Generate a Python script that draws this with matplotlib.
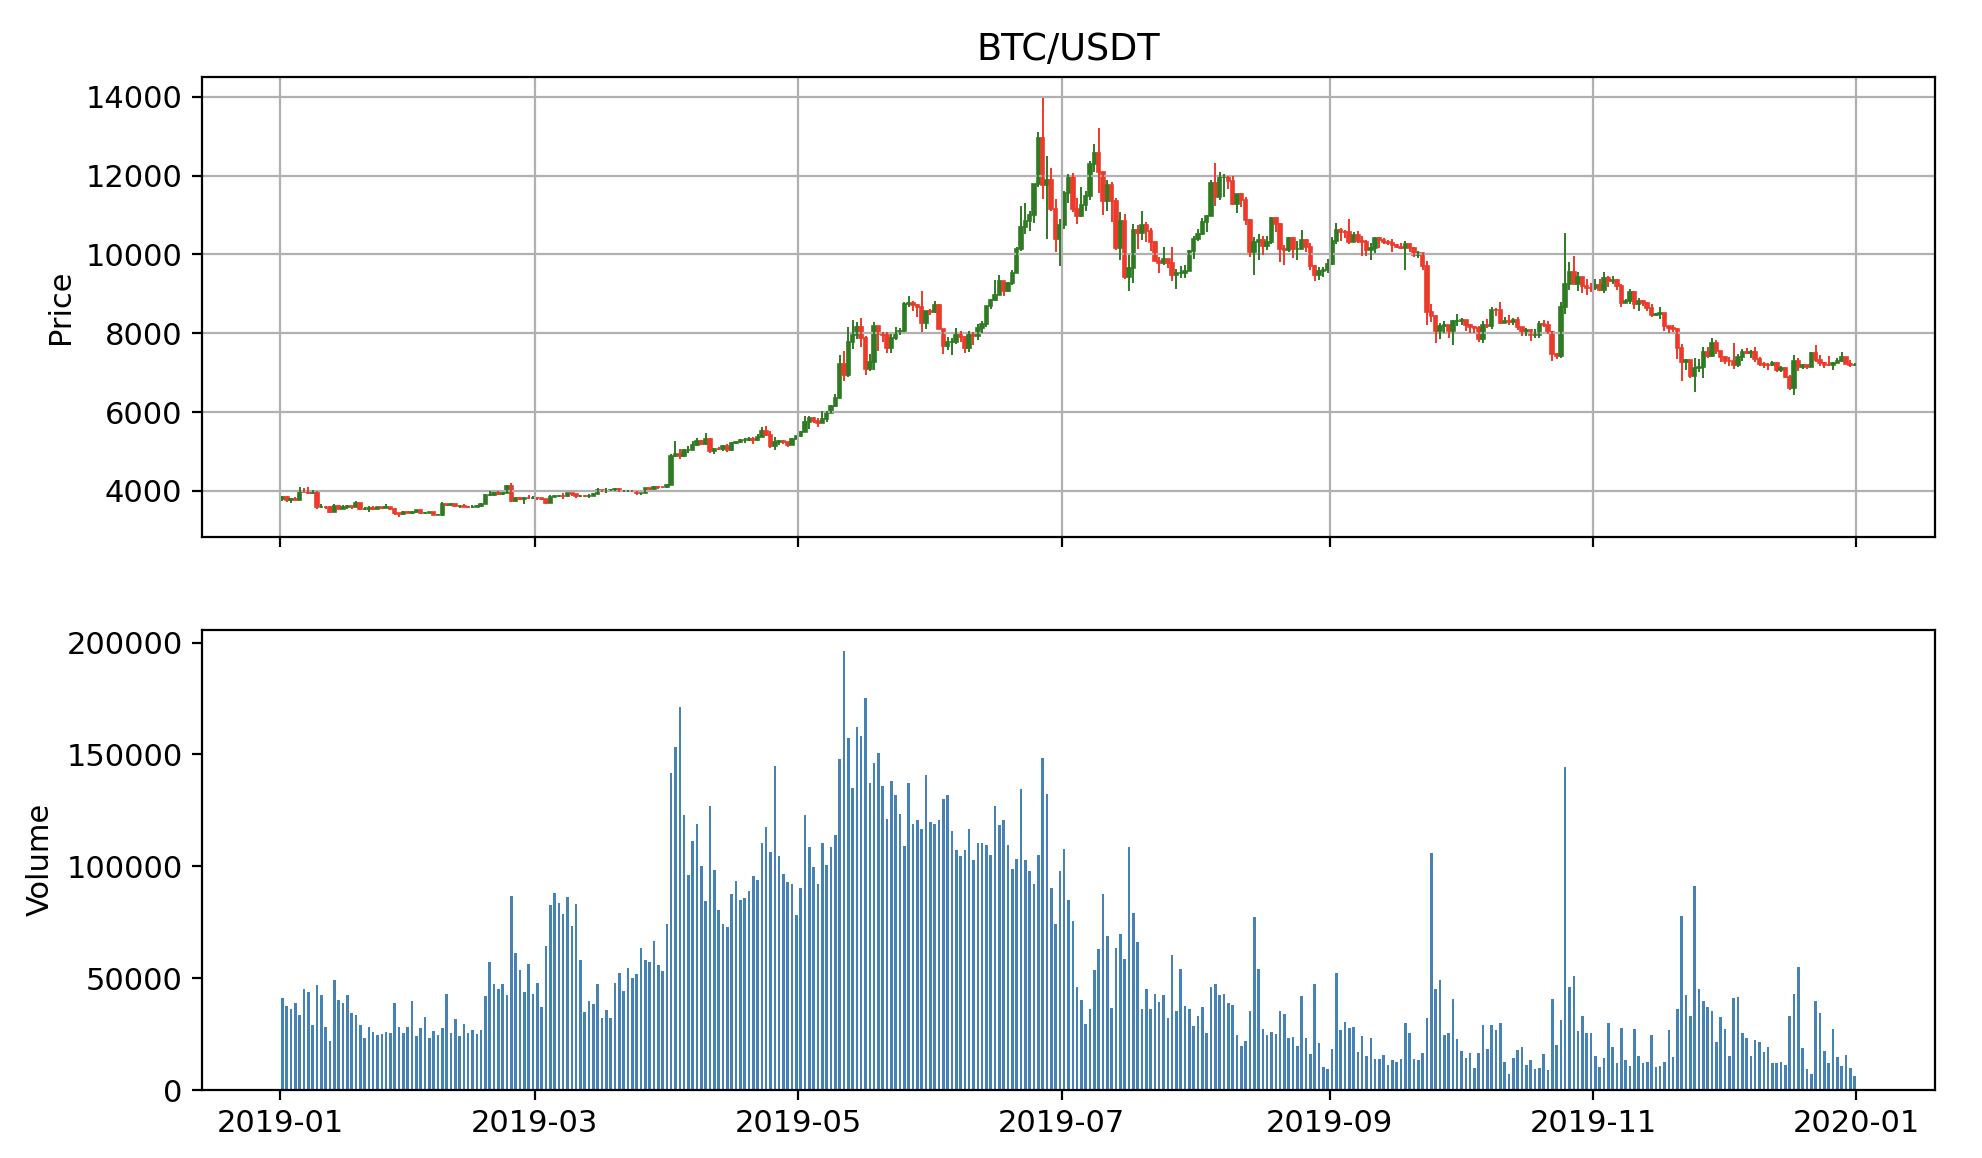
import numpy as np
import pandas as pd
import matplotlib
matplotlib.use('Agg')
import matplotlib.pyplot as plt
import matplotlib.dates as mdates
from matplotlib.ticker import MultipleLocator

plt.rcParams['font.size'] = 11

# daily candles for 2019, one list per month (open = previous close)
first_open = 3797

close_jan = [3858, 3766, 3792, 3770, 3988, 3975, 3955, 3967, 3585, 3601, 3583, 3477, 3626, 3553, 3591, 3616,
             3594, 3681, 3545, 3552, 3575, 3553, 3591, 3575, 3583, 3552, 3434, 3411, 3459, 3434, 3463]
high_jan = [3882, 3863, 3823, 3850, 4088, 4074, 4109, 4019, 3996, 3658, 3618, 3611, 3671, 3652, 3645, 3634,
            3620, 3750, 3700, 3587, 3626, 3616, 3599, 3603, 3677, 3596, 3555, 3442, 3498, 3500, 3482]
low_jan = [3750, 3730, 3703, 3760, 3757, 3964, 3929, 3930, 3540, 3566, 3530, 3441, 3467, 3531, 3545, 3530,
           3535, 3594, 3513, 3515, 3460, 3525, 3536, 3530, 3561, 3511, 3400, 3350, 3395, 3432, 3411]

close_feb = [3509, 3431, 3445, 3457, 3397, 3399, 3662, 3654, 3679, 3615, 3625, 3601, 3584, 3602, 3619, 3668,
             3898, 3907, 3960, 3922, 3957, 4120, 3741, 3820, 3806, 3818, 3813, 3823]
high_feb = [3518, 3515, 3461, 3475, 3470, 3424, 3730, 3673, 3690, 3680, 3649, 3665, 3617, 3642, 3652, 3695,
            3925, 4000, 3979, 3986, 3980, 4156, 4208, 3844, 3834, 3842, 3905, 3874]
low_feb = [3447, 3425, 3425, 3433, 3381, 3390, 3375, 3626, 3611, 3593, 3570, 3583, 3565, 3575, 3598, 3592,
           3658, 3860, 3880, 3890, 3900, 3943, 3721, 3727, 3775, 3680, 3785, 3806]

close_mar = [3819, 3792, 3705, 3857, 3861, 3873, 3864, 3943, 3916, 3870, 3881, 3865, 3873, 3918, 4032, 3986,
             3992, 4032, 4053, 3987, 4000, 4006, 3993, 3935, 3947, 4067, 4046, 4110, 4102, 4096, 4140]
high_mar = [3838, 3830, 3800, 3899, 3909, 3900, 3935, 3950, 3943, 3921, 3900, 3892, 3914, 3937, 4075, 4035,
            4066, 4049, 4068, 4081, 4015, 4014, 4015, 4000, 3957, 4085, 4078, 4125, 4125, 4110, 4165]
low_mar = [3780, 3771, 3677, 3696, 3834, 3845, 3801, 3858, 3880, 3824, 3837, 3844, 3810, 3866, 3915, 3968,
           3958, 3986, 4002, 3965, 3978, 3983, 3979, 3888, 3906, 3940, 4023, 4032, 4060, 4075, 4081]

close_apr = [4874, 4947, 4883, 5027, 5040, 5160, 5270, 5196, 5321, 5020, 5060, 5058, 5140, 5030, 5215, 5235,
             5280, 5285, 5320, 5304, 5375, 5525, 5425, 5145, 5245, 5260, 5230, 5170, 5321, 5385]
high_apr = [4925, 5274, 5060, 5065, 5150, 5260, 5330, 5280, 5460, 5340, 5100, 5120, 5175, 5190, 5245, 5275,
            5325, 5335, 5358, 5357, 5450, 5615, 5645, 5520, 5375, 5280, 5300, 5245, 5340, 5391]
low_apr = [4138, 4870, 4800, 4870, 4960, 5030, 5145, 5160, 5162, 4950, 4930, 5030, 5020, 4995, 5020, 5185,
           5225, 5220, 5255, 5203, 5275, 5365, 5385, 5100, 5050, 5175, 5190, 5105, 5154, 5310]

close_may = [5490, 5741, 5845, 5771, 5728, 5830, 5980, 6150, 6353, 7217, 6940, 7790, 7950, 8165, 7875, 7100,
             7265, 8192, 7978, 7950, 7626, 7880, 7995, 8055, 8740, 8780, 8715, 8660, 8267, 8555, 8545]
high_may = [5520, 5900, 5900, 5870, 5850, 6030, 6015, 6190, 6456, 7450, 7539, 8150, 8330, 8275, 8385, 7930,
            7480, 8275, 8192, 8044, 8030, 7975, 8165, 8140, 8790, 8940, 8815, 8730, 9075, 8570, 8625]
low_may = [5375, 5485, 5580, 5727, 5620, 5725, 5749, 5975, 6120, 6353, 6800, 6880, 7612, 7857, 7650, 6950,
           7050, 7076, 7560, 7780, 7500, 7500, 7820, 7960, 8020, 8660, 8560, 8420, 8020, 8110, 8465]

close_jun = [8725, 8115, 7687, 7776, 7786, 7980, 7893, 7628, 8000, 7925, 8145, 8230, 8693, 8838, 8975, 9320,
             9081, 9273, 9527, 10145, 10700, 10855, 11011, 11790, 12950, 11750, 11900, 11150, 10400, 10750]
high_jun = [8819, 8735, 8115, 7900, 7875, 8140, 8050, 7935, 8063, 8027, 8223, 8313, 8694, 8857, 9348, 9475,
            9330, 9300, 9594, 10185, 11222, 11300, 11095, 11795, 13100, 13970, 12500, 12200, 11400, 10900]
low_jun = [8523, 8105, 7481, 7580, 7444, 7733, 7786, 7508, 7515, 7702, 7825, 8000, 8169, 8620, 8820, 8975,
           8940, 9041, 9226, 9525, 10085, 10530, 10600, 10800, 11700, 11400, 10400, 11100, 10050, 9700]

close_jul = [11550, 11981, 11143, 10979, 11256, 11475, 12296, 12568, 12100, 11343, 11758, 11355, 10175, 10838,
             9439, 9667, 10627, 10533, 10759, 10587, 10323, 9845, 9773, 9880, 9772, 9467, 9520, 9529, 9589,
             10085, 10400]
high_jul = [11600, 12050, 12061, 11432, 11700, 11600, 12380, 12800, 13200, 12100, 11894, 11841, 11444, 11080,
            11030, 9990, 10777, 10750, 11100, 10831, 10660, 10335, 9930, 10180, 9888, 10184, 9619, 9717, 9741,
            10100, 10475]
low_jul = [10650, 11300, 11067, 10771, 10950, 11104, 11380, 12095, 11569, 11001, 11091, 10830, 10100, 9860,
           9366, 9060, 9282, 10135, 10369, 10320, 10091, 9828, 9525, 9730, 9659, 9320, 9113, 9391, 9400,
           9585, 9880]

close_aug = [10519, 10821, 10970, 11805, 11465, 11971, 11982, 11862, 11284, 11529, 11383, 10863, 10050, 10306,
             10358, 10220, 10315, 10916, 10760, 10130, 10112, 10407, 10136, 10143, 10370, 10185, 9715, 9480,
             9580, 9594, 9757]
high_aug = [10650, 10920, 11000, 11888, 12318, 12100, 12040, 12000, 12000, 11540, 11550, 11449, 10888, 10450,
            10525, 10476, 10468, 10950, 10956, 10800, 10235, 10450, 10435, 10340, 10625, 10386, 10287, 9730,
            9690, 9670, 9880]
low_aug = [10352, 10500, 10560, 10965, 11226, 11390, 11463, 11648, 11256, 11054, 11200, 10750, 9930, 9470,
           9855, 9996, 10108, 10270, 10566, 9800, 9740, 10052, 9900, 9860, 10143, 10050, 9600, 9320,
           9350, 9420, 9533]

close_sep = [10347, 10622, 10580, 10578, 10321, 10491, 10336, 10318, 10103, 10162, 10416, 10358, 10307, 10301,
             10238, 10180, 10170, 10272, 10167, 9986, 10029, 9700, 8530, 8432, 8063, 8179, 8206, 8045, 8305, 8313]
high_sep = [10450, 10790, 10660, 10615, 10905, 10558, 10595, 10480, 10375, 10297, 10450, 10440, 10420, 10370,
            10380, 10270, 10279, 10350, 10292, 10176, 10090, 10040, 9825, 8730, 8455, 8265, 8299, 8220, 8325, 8497]
low_sep = [9740, 10255, 10350, 10412, 10260, 10303, 10302, 9950, 9953, 9868, 10045, 10153, 10267, 10250,
           10068, 10152, 10130, 9600, 10070, 9946, 9900, 9615, 8215, 8290, 7750, 7851, 8000, 7880, 7700, 8172]

close_oct = [8341, 8222, 8148, 8122, 7863, 8208, 8190, 8591, 8589, 8262, 8300, 8275, 8348, 8159, 7995, 8070,
             7953, 7957, 8223, 8205, 8020, 7467, 7412, 8660, 9244, 9551, 9256, 9427, 9205, 9150, 9140]
high_oct = [8393, 8345, 8235, 8179, 8183, 8319, 8350, 8658, 8645, 8790, 8409, 8454, 8398, 8400, 8167, 8139,
            8111, 8100, 8299, 8340, 8300, 8045, 7500, 8800, 10540, 9800, 9950, 9544, 9430, 9381, 9268]
low_oct = [8210, 8061, 8000, 8000, 7768, 7760, 8125, 8100, 8450, 8241, 8251, 8200, 8215, 8090, 7920, 7940,
           7800, 7889, 7870, 8160, 7993, 7300, 7350, 7382, 8500, 9096, 9250, 9067, 9014, 8976, 9051]

close_nov = [9231, 9086, 9413, 9318, 9352, 9209, 8773, 8809, 9039, 8733, 8822, 8777, 8646, 8471, 8491, 8502,
             8187, 8133, 8098, 7627, 7268, 7311, 6904, 7109, 7156, 7512, 7422, 7751, 7543, 7389]
high_nov = [9375, 9373, 9553, 9464, 9440, 9375, 9240, 8880, 9135, 9076, 8888, 8835, 8795, 8749, 8523, 8660,
            8503, 8188, 8205, 8130, 7730, 7350, 7330, 7371, 7340, 7655, 7640, 7870, 7826, 7545]
low_nov = [9100, 9077, 9011, 9161, 9253, 9100, 8673, 8755, 8731, 8606, 8575, 8700, 8574, 8400, 8436, 8373,
           8055, 7998, 8030, 7350, 6790, 7080, 6853, 6515, 7006, 6861, 7363, 7406, 7465, 7262]

close_dec = [7294, 7292, 7194, 7389, 7528, 7504, 7523, 7338, 7218, 7202, 7189, 7251, 7069, 7113, 6880, 6616,
             7291, 7152, 7190, 7145, 7510, 7318, 7255, 7205, 7195, 7247, 7302, 7385, 7220, 7195, 7200]
high_dec = [7418, 7400, 7750, 7485, 7590, 7629, 7580, 7650, 7400, 7275, 7245, 7298, 7270, 7157, 7135, 6944,
            7440, 7375, 7220, 7192, 7525, 7700, 7436, 7271, 7435, 7270, 7365, 7518, 7408, 7310, 7255]
low_dec = [7213, 7166, 7081, 7150, 7305, 7470, 7383, 7270, 7160, 7130, 7080, 7175, 7018, 7025, 6860, 6555,
           6435, 7030, 7100, 7100, 7133, 7265, 7157, 7128, 7160, 7057, 7247, 7270, 7220, 7145, 7175]

# daily volume, thousands of BTC
vol_jan = [41.0, 37.7, 36.0, 39.1, 33.7, 45.0, 44.0, 29.2, 46.9, 42.3, 28.3, 22.1, 49.1, 40.3, 39.1, 42.3,
           34.3, 33.6, 29.2, 23.1, 28.0, 25.9, 24.7, 25.0, 25.9, 25.6, 39.1, 28.0, 25.6, 28.0, 39.8]
vol_feb = [24.1, 27.7, 32.7, 23.4, 26.5, 24.7, 27.7, 42.9, 25.6, 31.8, 24.1, 29.7, 25.6, 26.8, 25.2, 26.8,
           41.9, 57.1, 47.4, 45.1, 47.4, 42.6, 86.6, 61.4, 53.6, 44.0, 56.5, 42.9]
vol_mar = [47.7, 37.0, 64.2, 82.9, 87.9, 83.6, 78.7, 86.3, 73.1, 83.3, 58.2, 34.8, 39.8, 38.6, 47.4, 32.4,
           35.7, 32.4, 47.9, 52.5, 44.4, 54.5, 50.0, 51.8, 63.6, 58.2, 57.3, 66.4, 55.9, 53.1, 74.0]
vol_apr = [141.9, 153.2, 171.1, 123.0, 96.0, 111.4, 119.1, 100.2, 84.4, 126.8, 98.3, 80.4, 74.4, 72.8, 87.5,
           93.4, 84.8, 85.7, 89.1, 95.6, 94.0, 110.5, 117.5, 106.5, 144.6, 104.8, 96.6, 93.1, 92.2, 78.1]
vol_may = [90.4, 122.8, 108.6, 99.9, 91.9, 110.2, 100.6, 108.8, 113.9, 147.8, 196.0, 157.5, 134.8, 162.3,
           158.3, 175.4, 137.0, 146.2, 150.8, 135.7, 121.1, 137.9, 132.0, 123.3, 109.2, 137.3, 118.8, 120.5,
           116.6, 141.0, 120.0]
vol_jun = [118.8, 120.5, 130.1, 131.7, 115.7, 107.3, 104.8, 107.3, 116.6, 103.0, 110.2, 110.2, 109.5, 105.2,
           127.1, 118.5, 120.5, 109.5, 99.0, 103.3, 134.4, 102.8, 97.7, 92.2, 104.9, 148.3, 132.3, 90.3, 74.1, 98.0]
vol_jul = [107.7, 85.1, 75.5, 46.0, 40.3, 29.6, 36.0, 53.6, 63.2, 87.5, 68.8, 36.7, 63.5, 69.6, 58.5, 108.6,
           79.0, 66.0, 36.0, 45.0, 36.4, 42.9, 39.2, 42.5, 32.4, 60.4, 35.1, 54.0, 37.6, 36.3, 28.7]
vol_aug = [32.9, 37.0, 25.7, 46.2, 47.4, 42.3, 42.9, 39.1, 38.0, 24.7, 19.8, 22.0, 35.5, 77.2, 54.3, 27.4,
           24.7, 25.9, 25.2, 35.4, 33.9, 23.4, 23.7, 19.8, 42.0, 23.1, 16.1, 47.4, 21.2, 10.5, 9.2]
vol_sep = [18.2, 52.2, 26.8, 30.5, 27.5, 28.0, 17.2, 24.1, 15.4, 23.1, 13.9, 13.9, 15.8, 11.4, 13.5, 12.6,
           13.8, 30.0, 25.6, 13.9, 13.2, 16.7, 32.3, 106.0, 45.0, 49.0, 24.7, 25.5, 40.7, 22.9]
vol_oct = [17.5, 14.2, 16.4, 9.9, 16.7, 29.2, 18.5, 29.2, 26.8, 30.0, 12.6, 7.0, 14.2, 17.8, 19.1, 11.0,
           13.5, 9.3, 9.9, 16.1, 8.9, 40.7, 20.3, 31.1, 144.3, 46.0, 50.9, 26.5, 33.0, 25.5, 25.6]
vol_nov = [15.2, 10.2, 14.2, 30.0, 19.4, 12.3, 27.5, 13.5, 10.7, 27.1, 15.2, 12.3, 12.7, 24.7, 10.2, 10.7,
           12.6, 26.8, 14.7, 36.0, 77.7, 42.6, 33.3, 91.0, 45.0, 40.0, 37.0, 35.1, 21.5, 32.7]
vol_dec = [27.4, 15.1, 41.3, 41.6, 25.7, 23.4, 15.4, 22.5, 21.3, 17.2, 19.4, 12.0, 12.3, 12.7, 11.0, 33.3,
           42.9, 55.2, 18.8, 9.2, 7.3, 39.7, 34.3, 17.5, 12.1, 27.1, 14.7, 10.7, 15.8, 9.8, 6.1]

closes = np.array(close_jan + close_feb + close_mar + close_apr + close_may + close_jun +
                  close_jul + close_aug + close_sep + close_oct + close_nov + close_dec, dtype=float)
highs = np.array(high_jan + high_feb + high_mar + high_apr + high_may + high_jun +
                 high_jul + high_aug + high_sep + high_oct + high_nov + high_dec, dtype=float)
lows = np.array(low_jan + low_feb + low_mar + low_apr + low_may + low_jun +
                low_jul + low_aug + low_sep + low_oct + low_nov + low_dec, dtype=float)
opens = np.concatenate([[first_open], closes[:-1]])
volume = np.array(vol_jan + vol_feb + vol_mar + vol_apr + vol_may + vol_jun +
                  vol_jul + vol_aug + vol_sep + vol_oct + vol_nov + vol_dec) * 1000

dates = pd.date_range('2019-01-01', periods=len(closes), freq='D')
x = mdates.date2num(dates) + 0.55

up_color = '#2f7b24'
down_color = '#ec3a2b'
colors = np.where(closes >= opens, up_color, down_color)

fig, (ax1, ax2) = plt.subplots(2, 1, sharex=True, figsize=(1982 / 200, 1158 / 200))
fig.subplots_adjust(left=0.1019, right=0.9763, top=0.9335, bottom=0.0587, hspace=0.2)

# candles: wick + body (thin edge so near-doji bodies still show)
ax1.vlines(x, lows, highs, colors=colors, linewidth=0.7)
ax1.bar(x, np.abs(closes - opens), bottom=np.minimum(opens, closes), width=0.8,
        color=colors, edgecolor=colors, linewidth=0.6)
ax1.set_title('BTC/USDT')
ax1.set_ylabel('Price')
ax1.yaxis.set_major_locator(MultipleLocator(2000))
ax1.grid(True)

ax2.bar(x, volume, width=0.6, color='#4682b4')
ax2.set_ylabel('Volume')
ax2.yaxis.set_major_locator(MultipleLocator(50000))

ax2.xaxis.set_major_locator(mdates.MonthLocator(bymonth=[1, 3, 5, 7, 9, 11]))
ax2.xaxis.set_major_formatter(mdates.DateFormatter('%Y-%m'))

fig.savefig('out.png', dpi=200)
plt.close(fig)
